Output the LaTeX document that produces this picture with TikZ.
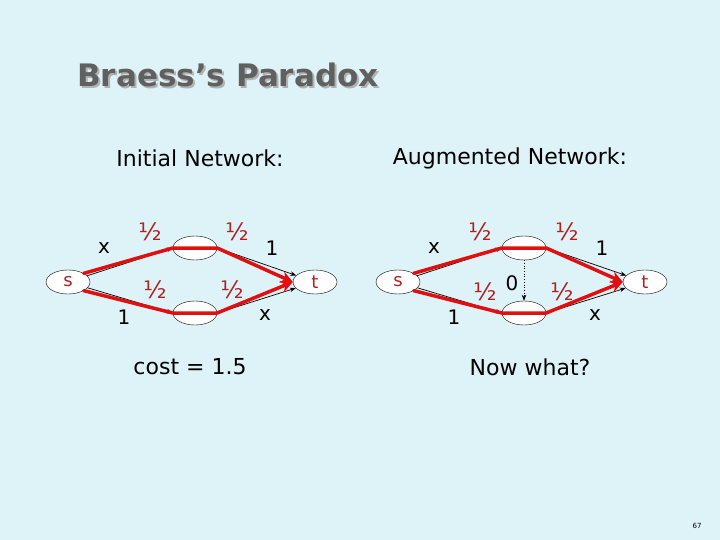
\documentclass[tikz,border=0pt]{standalone}
\usepackage{fontspec}
\setmainfont{DejaVu Sans}
\usetikzlibrary{arrows.meta,shapes.geometric}
\definecolor{bg}{HTML}{DDF3F8}
\definecolor{rd}{HTML}{E01010}
\definecolor{lbl}{HTML}{B02020}
\begin{document}
\begin{tikzpicture}[x=1pt,y=-1pt,
  vert/.style={draw=black,fill=white,ellipse,minimum width=44pt,minimum height=24pt,inner sep=0pt,font=\fontsize{18}{18}\selectfont,text=lbl},
  blk/.style={draw=black,line width=0.7pt,-{Stealth[length=6pt]}},
  red/.style={draw=rd,line width=3.5pt,line cap=round},
  redarr/.style={red,-{Stealth[length=12pt,width=12pt]}},
  half/.style={text=lbl,font=\fontsize{24}{24}\selectfont},
  bl/.style={font=\fontsize{20}{20}\selectfont}]
\useasboundingbox (0,0) rectangle (720,540);
\fill[bg] (0,0) rectangle (720,540);
\node[text=gray!60,font=\bfseries\fontsize{31}{31}\selectfont] (tsh) at (230,77) {Braess’s Paradox};
\node[text=gray!75!black,font=\bfseries\fontsize{31}{31}\selectfont] (title) at (228,75) {Braess’s Paradox};
\node[font=\fontsize{22}{22}\selectfont] (h1) at (200,158) {Initial Network:};
\node[font=\fontsize{22}{22}\selectfont] (h2) at (510,158) {Augmented Network:};
% left
\node[vert] (s1) at (68,282) {s};
\node[vert] (a1) at (195,248) {};
\node[vert] (b1) at (195,313) {};
\node[vert] (t1) at (315,282) {t};
\draw[blk] (s1) -- (a1.west);
\draw[blk] (a1.east) -- (t1);
\draw[blk] (s1) -- (b1.west);
\draw[blk] (b1.east) -- (t1);
\draw[red] (s1.north east) -- (a1.west) -- (a1.east);
\draw[redarr] (a1.east) -- (t1.west);
\draw[red] (s1.south east) -- (b1.west) -- (b1.east);
\draw[redarr] (b1.east) -- (t1.west);
\node[bl] (x1) at (104,248) {x};
\node[half] (h11) at (150,232) {½};
\node[half] (h12) at (237,232) {½};
\node[bl] (o1) at (272,248) {1};
\node[half] (h13) at (155,290) {½};
\node[half] (h14) at (232,290) {½};
\node[bl] (o2) at (124,317) {1};
\node[bl] (x2) at (265,315) {x};
\node[font=\fontsize{22}{22}\selectfont] (c1) at (190,367) {cost = 1.5};
% right
\node[vert] (s2) at (398,282) {s};
\node[vert] (a2) at (524,248) {};
\node[vert] (b2) at (524,313) {};
\node[vert] (t2) at (645,282) {t};
\draw[blk] (s2) -- (a2.west);
\draw[blk] (a2.east) -- (t2);
\draw[blk] (s2) -- (b2.west);
\draw[blk] (b2.east) -- (t2);
\draw[black,line width=0.7pt,dotted,-{Stealth[length=6pt]}] (a2.south) -- (b2.north);
\draw[red] (s2.north east) -- (a2.west) -- (a2.east);
\draw[redarr] (a2.east) -- (t2.west);
\draw[red] (s2.south east) -- (b2.west) -- (b2.east);
\draw[redarr] (b2.east) -- (t2.west);
\node[bl] (x3) at (434,248) {x};
\node[half] (h21) at (480,232) {½};
\node[half] (h22) at (567,232) {½};
\node[bl] (o3) at (602,248) {1};
\node[half] (h23) at (485,292) {½};
\node[bl] (z) at (512,283) {0};
\node[half] (h24) at (562,292) {½};
\node[bl] (o4) at (454,317) {1};
\node[bl] (x4) at (595,315) {x};
\node[font=\fontsize{22}{22}\selectfont] (c2) at (530,367) {Now what?};
\node[font=\fontsize{7}{7}\selectfont] (pg) at (697,526) {67};
\end{tikzpicture}
\end{document}
